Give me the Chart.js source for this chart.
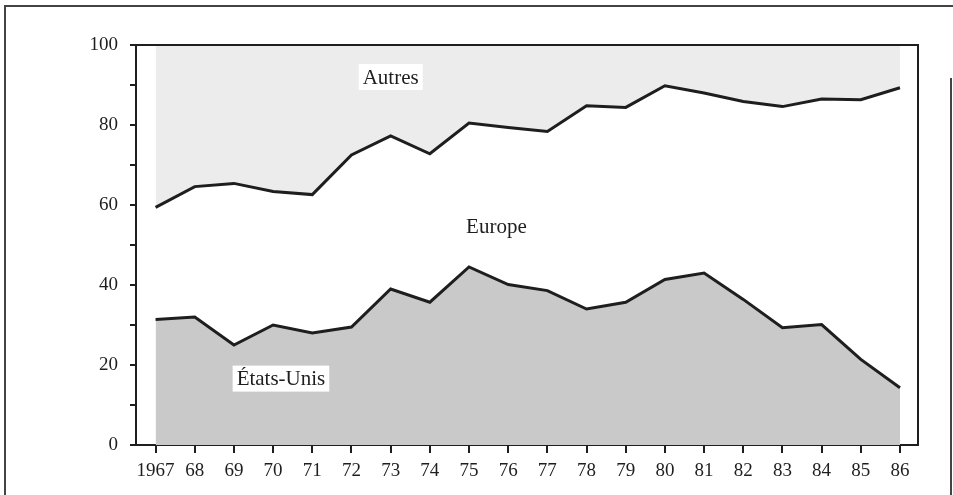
<!DOCTYPE html>
<html>
<head>
<meta charset="utf-8">
<script src="https://cdn.jsdelivr.net/npm/chart.js@4"></script>
<style>
  html, body { margin: 0; padding: 0; background: #fff; }
  #wrap { width: 953px; height: 495px; position: relative; }
</style>
</head>
<body>
<div id="wrap"><canvas id="c" width="953" height="495"></canvas></div>
<script>
// Years (x categories) and their tick labels
const years = [1967,1968,1969,1970,1971,1972,1973,1974,1975,1976,1977,1978,1979,1980,1981,1982,1983,1984,1985,1986];
const yearLabels = ['1967','68','69','70','71','72','73','74','75','76','77','78','79','80','81','82','83','84','85','86'];
// Shares (%), stacked bottom to top
const etatsUnis = [31.4, 32.0, 25.0, 30.0, 28.0, 29.5, 39.0, 35.7, 44.5, 40.1, 38.6, 34.0, 35.7, 41.4, 43.0, 36.4, 29.3, 30.1, 21.4, 14.3];
const europe    = [28.0, 32.6, 40.4, 33.4, 34.6, 43.0, 38.3, 37.1, 36.0, 39.3, 39.8, 50.8, 48.7, 48.4, 45.0, 49.5, 55.3, 56.4, 64.9, 75.0];
const autres    = [40.6, 35.4, 34.6, 36.6, 37.4, 27.5, 22.7, 27.2, 19.5, 20.6, 21.6, 15.2, 15.6, 10.2, 12.0, 14.1, 15.4, 13.5, 13.7, 10.7];
const yTicks = [0, 20, 40, 60, 80, 100];
const seriesNames = ['États-Unis', 'Europe', 'Autres'];

const toPts = arr => arr.map((v, i) => ({x: years[i], y: v}));
const FONT = '"Liberation Serif", "DejaVu Serif", serif';
const INK = '#1e1e1e';

const labelsPlugin = {
  id: 'areaLabels',
  afterDraw(chart) {
    const {ctx, chartArea: a, scales: {x, y}} = chart;
    ctx.save();
    // plot frame (top and right), with top extending left like the axis
    ctx.strokeStyle = INK;
    ctx.lineWidth = 2;
    ctx.beginPath();
    ctx.moveTo(a.left - 6, a.top);
    ctx.lineTo(a.right, a.top);
    ctx.lineTo(a.right, a.bottom);
    ctx.stroke();
    // page border
    ctx.lineWidth = 2;
    ctx.strokeStyle = '#444';
    ctx.beginPath();
    ctx.moveTo(5, 495);
    ctx.lineTo(5, 6);
    ctx.lineTo(953, 6);
    ctx.stroke();
    ctx.beginPath();
    ctx.moveTo(951, 78);
    ctx.lineTo(951, 495);
    ctx.stroke();

    // series labels
    ctx.font = '21px ' + FONT;
    ctx.textAlign = 'center';
    ctx.textBaseline = 'middle';
    const items = [
      {t: seriesNames[2], x: 1973.0, y: 92.0, box: true},
      {t: seriesNames[1], x: 1975.7, y: 54.6, box: false},
      {t: seriesNames[0], x: 1970.2, y: 16.6, box: true}
    ];
    items.forEach(it => {
      const px = x.getPixelForValue(it.x), py = y.getPixelForValue(it.y);
      const w = ctx.measureText(it.t).width;
      if (it.box) {
        ctx.fillStyle = '#fff';
        ctx.fillRect(px - w / 2 - 4, py - 13, w + 8, 26);
      }
      ctx.fillStyle = INK;
      ctx.fillText(it.t, px, py + 1);
    });
    ctx.restore();
  }
};

new Chart(document.getElementById('c'), {
  type: 'line',
  data: {
    datasets: [
      { label: seriesNames[0], data: toPts(etatsUnis), fill: 'origin', backgroundColor: '#c9c9c9',
        borderColor: INK, borderWidth: 3, pointRadius: 0, tension: 0, order: 1 },
      { label: seriesNames[1], data: toPts(europe), fill: '-1', backgroundColor: '#ffffff',
        borderColor: INK, borderWidth: 3, pointRadius: 0, tension: 0, order: 1 },
      { label: seriesNames[2], data: toPts(autres), fill: '-1', backgroundColor: '#ececec',
        borderColor: 'rgba(0,0,0,0)', borderWidth: 0, pointRadius: 0, tension: 0, order: 2 }
    ]
  },
  options: {
    responsive: false,
    animation: false,
    events: [],
    layout: { padding: { left: 0, right: 35, top: 45, bottom: 0 } },
    plugins: { legend: { display: false }, tooltip: { enabled: false } },
    elements: { line: { borderJoinStyle: 'miter', borderCapStyle: 'butt' } },
    scales: {
      x: {
        type: 'linear',
        min: 1966.5,
        max: 1986.46,
        afterBuildTicks(scale) { scale.ticks = years.map(v => ({value: v})); },
        afterFit(scale) { scale.height = 50; },
        ticks: {
          autoSkip: false, maxRotation: 0, padding: 7,
          color: INK, font: { family: FONT, size: 19 },
          callback: (v) => { const i = years.indexOf(v); return i >= 0 ? yearLabels[i] : ''; }
        },
        grid: { drawOnChartArea: false, drawTicks: true, tickLength: 8, color: INK, lineWidth: 2 },
        border: { display: true, color: INK, width: 2 }
      },
      y: {
        stacked: true,
        min: 0, max: 100,
        afterBuildTicks(scale) {
          const t = [];
          for (let v = 0; v <= 100; v += 10) t.push({value: v});
          scale.ticks = t;
        },
        afterFit(scale) { scale.width = 136; },
        ticks: {
          padding: 12, color: INK, font: { family: FONT, size: 19 },
          callback: (v) => yTicks.includes(v) ? String(v) : ''
        },
        grid: { drawOnChartArea: false, drawTicks: true, tickLength: 6, color: INK, lineWidth: 2 },
        border: { display: true, color: INK, width: 2 }
      }
    }
  },
  plugins: [labelsPlugin]
});
</script>
</body>
</html>
